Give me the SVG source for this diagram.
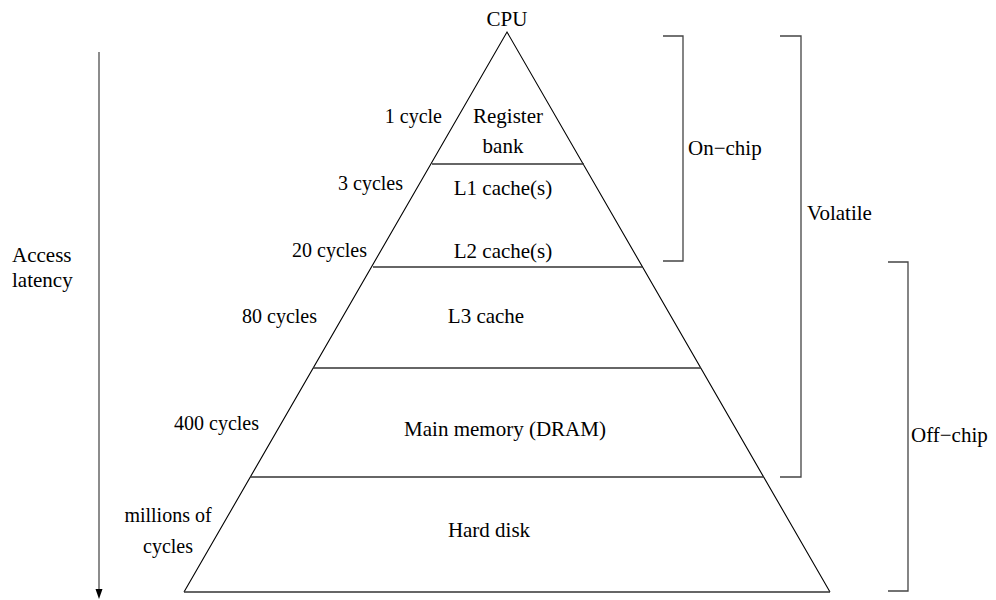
<svg xmlns="http://www.w3.org/2000/svg" width="996" height="600" viewBox="0 0 996 600">
  <defs>
    <style>
      text { font-family: "Liberation Serif", "Times New Roman", serif; fill: #000; }
      .lbl { font-size: 21px; text-anchor: middle; }
      .lat { font-size: 20px; text-anchor: end; }
      .side { font-size: 21px; text-anchor: start; }
      .edge { fill: none; stroke: #000; stroke-width: 1.1; }
      .tier { fill: none; stroke: #333; stroke-width: 1.3; }
      .brk { fill: none; stroke: #444; stroke-width: 1.3; }
    </style>
  </defs>
  <rect width="996" height="600" fill="#fff"/>

  <!-- pyramid outline -->
  <g id="pyramid">
    <polyline class="edge" points="184,592 507,32 830,592"/>
    <line class="tier" x1="184" y1="592" x2="830" y2="592"/>
  </g>

  <g id="cpu">
    <text class="lbl" x="507" y="26">CPU</text>
  </g>

  <g id="registers">
    <text class="lbl" x="508" y="123">Register</text>
    <text class="lbl" x="503" y="153">bank</text>
    <text class="lat" x="442" y="123">1 cycle</text>
    <line class="tier" x1="432" y1="164" x2="584" y2="164"/>
  </g>

  <g id="l1">
    <text class="lbl" x="503" y="195">L1 cache(s)</text>
    <text class="lat" x="403" y="190">3 cycles</text>
  </g>

  <g id="l2">
    <text class="lbl" x="503" y="258">L2 cache(s)</text>
    <text class="lat" x="367" y="257">20 cycles</text>
    <line class="tier" x1="373" y1="267" x2="642" y2="267"/>
  </g>

  <g id="l3">
    <text class="lbl" x="486" y="323">L3 cache</text>
    <text class="lat" x="317" y="323">80 cycles</text>
    <line class="tier" x1="313" y1="368" x2="701" y2="368"/>
  </g>

  <g id="dram">
    <text class="lbl" x="505" y="436">Main memory (DRAM)</text>
    <text class="lat" x="259" y="430">400 cycles</text>
    <line class="tier" x1="250" y1="477" x2="764" y2="477"/>
  </g>

  <g id="disk">
    <text class="lbl" x="489" y="537">Hard disk</text>
    <text class="lat" x="168" y="522" style="text-anchor: middle">millions of</text>
    <text class="lat" x="168" y="553" style="text-anchor: middle">cycles</text>
  </g>

  <!-- grouping brackets -->
  <g id="on-chip">
    <polyline class="brk" points="663,36 683,36 683,261 663,261"/>
    <text class="side" x="688" y="155">On−chip</text>
  </g>
  <g id="volatile">
    <polyline class="brk" points="780,36 801,36 801,477 780,477"/>
    <text class="side" x="807" y="220">Volatile</text>
  </g>
  <g id="off-chip">
    <polyline class="brk" points="888,262 908,262 908,591 888,591"/>
    <text class="side" x="911" y="442">Off−chip</text>
  </g>

  <!-- latency axis -->
  <g id="connectors">
    <line x1="99" y1="52" x2="99" y2="591" stroke="#666" stroke-width="1.5"/>
    <polygon points="95.5,589 102.5,589 99,599" fill="#000"/>
  </g>
  <g id="latency-label">
    <text class="side" x="12" y="262">Access</text>
    <text class="side" x="12" y="287">latency</text>
  </g>
</svg>
